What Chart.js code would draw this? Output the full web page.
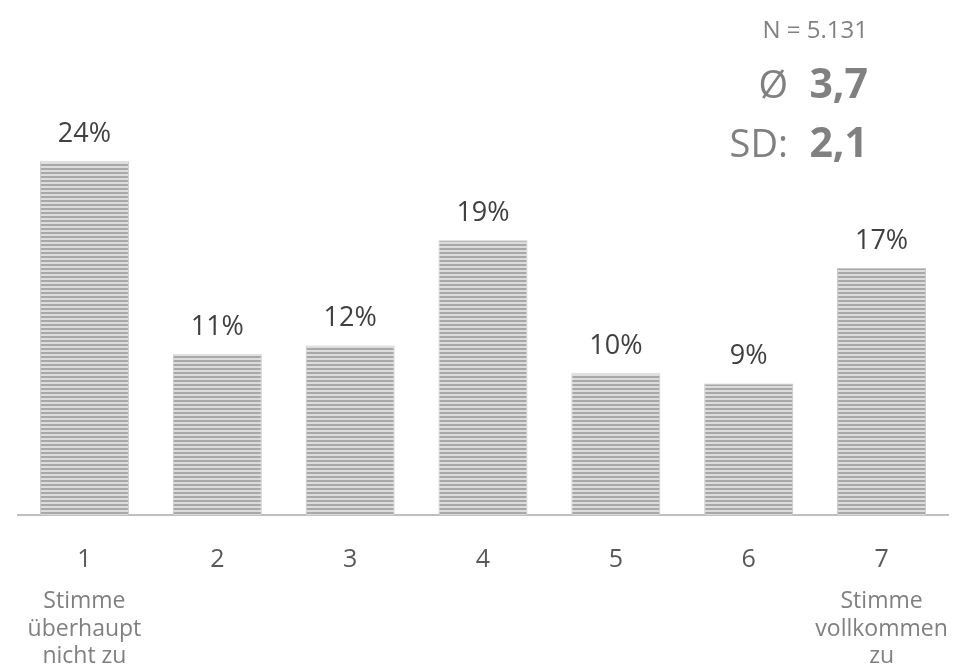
<!DOCTYPE html>
<html>
<head>
<meta charset="utf-8">
<script src="https://cdn.jsdelivr.net/npm/chart.js@4/dist/chart.umd.min.js"></script>
<style>
  html, body { margin: 0; padding: 0; background: #fff; }
  #wrap { width: 971px; height: 672px; }
</style>
</head>
<body>
<div id="wrap"><canvas id="chart" width="971" height="672"></canvas></div>
<script>
// ── data ──
const categories = ["1", "2", "3", "4", "5", "6", "7"];
const shares = [24.2, 11.0, 11.6, 18.8, 9.7, 9.0, 16.9];
const subLabels = [["Stimme", "überhaupt", "nicht zu"], [], [], [], [], [], ["Stimme", "vollkommen", "zu"]];
const statN = "N = 5.131";
const statMean = "3,7";
const statSD = "2,1";

const FONT = "'Open Sans', 'DejaVu Sans', sans-serif";

// striped fill like the original bars
function makeStripes(ctx) {
  const c = document.createElement("canvas");
  c.width = 4; c.height = 4;
  const p = c.getContext("2d");
  p.fillStyle = "#dcdcdc"; p.fillRect(0, 0, 4, 4);
  p.fillStyle = "#a8a8a8"; p.fillRect(0, 0, 4, 2);
  return ctx.createPattern(c, "repeat");
}

const extras = {
  id: "extras",
  afterDatasetsDraw(chart) {
    const ctx = chart.ctx;
    const meta = chart.getDatasetMeta(0);
    const xScale = chart.scales.x;
    ctx.save();
    ctx.textAlign = "center";
    ctx.textBaseline = "alphabetic";

    // value labels
    ctx.fillStyle = "#404040";
    ctx.font = "27px " + FONT;
    meta.data.forEach((bar, i) => {
      ctx.fillText(Math.round(shares[i]) + "%", bar.x, bar.y - 19);
    });

    // sub labels under the axis numbers
    ctx.fillStyle = "#808080";
    ctx.font = "23px " + FONT;
    subLabels.forEach((lines, i) => {
      const x = xScale.getPixelForValue(i);
      lines.forEach((t, j) => ctx.fillText(t, x, 608 + j * 27.5));
    });

    // stats block, top right
    ctx.textAlign = "right";
    ctx.fillStyle = "#808080";
    ctx.font = "24px " + FONT;
    ctx.fillText(statN, 868, 38);
    ctx.font = "bold 41px " + FONT;
    ctx.fillText(statMean, 868, 98);
    ctx.fillText(statSD, 868, 157);
    ctx.font = "38px " + FONT;
    ctx.fillText("Ø", 788, 98);
    ctx.fillText("SD:", 788, 157);
    ctx.restore();
  }
};

const ctx = document.getElementById("chart").getContext("2d");
new Chart(ctx, {
  type: "bar",
  data: {
    labels: categories,
    datasets: [{
      data: shares,
      backgroundColor: makeStripes(ctx),
      borderColor: "#c8c8c8",
      borderWidth: 1,
      categoryPercentage: 1,
      barPercentage: 0.67
    }]
  },
  options: {
    responsive: false,
    animation: false,
    layout: { padding: { top: 40, left: 18, right: 23, bottom: 0 } },
    plugins: { legend: { display: false }, tooltip: { enabled: false } },
    scales: {
      x: {
        grid: { display: false, drawTicks: false },
        border: { display: true, color: "#bfbfbf", width: 2 },
        ticks: { color: "#595959", font: { size: 25, family: FONT }, padding: 30 },
        afterFit(scale) { scale.height = 157; }
      },
      y: { display: false, min: 0, max: 32.5 }
    }
  },
  plugins: [extras]
});
</script>
</body>
</html>
